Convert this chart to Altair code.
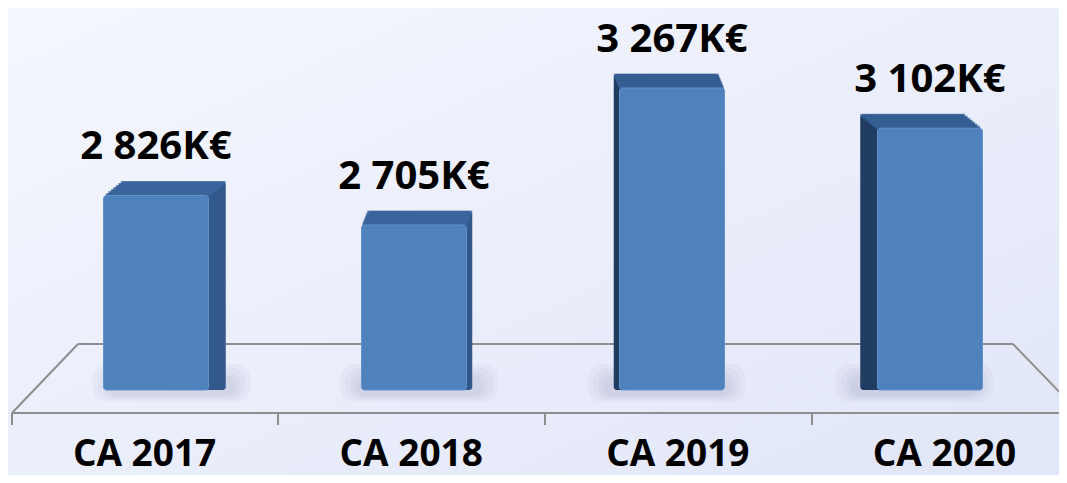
import altair as alt
import pandas as pd

# ---- data ----
categories = ["CA 2017", "CA 2018", "CA 2019", "CA 2020"]
values = [2826, 2705, 3267, 3102]
value_labels = ["2 826K€", "2 705K€", "3 267K€", "3 102K€"]

# scale limits (floor of the 3D chart and top of plot area)
Y_MIN = 2028
Y_MAX = 3595

df = pd.DataFrame({"cat": categories, "value": values, "label": value_labels})
one = pd.DataFrame({"k": [0]})

FONT = "Open Sans"
DEPTH = 14      # vertical depth of the 3D extrusion (px)
STEPS = 7

base = (
    alt.Chart(df)
    .transform_window(idx="row_number()")
    .transform_calculate(dx="(2.5 - datum.idx) * 11.5")
)

x_enc = alt.X(
    "cat:N",
    sort=categories,
    axis=None,
    scale=alt.Scale(paddingInner=0.593, paddingOuter=0.2965),
)
y_enc = alt.Y(
    "value:Q", axis=None, scale=alt.Scale(domain=[Y_MIN, Y_MAX], zero=False)
)
y2_enc = alt.Y2(datum=Y_MIN)

# background gradient
bg = alt.Chart(one).mark_rect(
    color=alt.Gradient(
        gradient="linear",
        stops=[
            alt.GradientStop(color="#f5f7fe", offset=0),
            alt.GradientStop(color="#e1e6f8", offset=1),
        ],
        x1=0, y1=0, x2=1, y2=1,
    )
).encode(x=alt.value(-19), x2=alt.value(1032), y=alt.value(0), y2=alt.value(467))

# floor lines
LINE = "#8e8e8e"
floor_segments = [
    (-15, 405, 1032, 405),   # front edge
    (51, 336, 986, 336),     # back edge
    (-15, 405, 51, 336),     # left diagonal
    (986, 336, 1042, 394),   # right diagonal
    (-15, 405, -15, 417),    # ticks
    (251, 405, 251, 417),
    (518, 405, 518, 417),
    (785, 405, 785, 417),
]
floor_layers = [
    alt.Chart(one)
    .mark_rule(color=LINE, strokeWidth=2)
    .encode(x=alt.value(a), y=alt.value(b), x2=alt.value(c), y2=alt.value(d))
    for a, b, c, d in floor_segments
]

# soft shadows at bar bases (several faint layers to imitate a blur)
shadows = [
    base.mark_bar(
        color="#5d6480", opacity=0.045, cornerRadius=14, width=w,
        xOffset=alt.expr("datum.dx * 0.9"),
    ).encode(x=x_enc, y=alt.value(y0), y2=alt.value(y1))
    for w, y0, y1 in [
        (158, 356, 394), (148, 360, 392), (138, 364, 390), (128, 368, 388),
    ]
]

# extruded box: copies of the rectangle translated along the depth vector
box_layers = []
for i in range(STEPS, 0, -1):
    t = i / STEPS
    box_layers.append(
        base.mark_bar(
            cornerRadius=3,
            xOffset=alt.expr(f"datum.dx * {t:.4f}"),
            yOffset=-DEPTH * t,
        ).encode(
            x=x_enc, y=y_enc, y2=y2_enc,
            color=alt.condition(
                "datum.dx > 0", alt.value("#33598b"), alt.value("#213d62")
            ),
        )
    )
    box_layers.append(
        base.mark_tick(
            orient="horizontal", thickness=DEPTH / STEPS + 1, size=105,
            color="#3d69a3",
            xOffset=alt.expr(f"datum.dx * {t:.4f}"),
            yOffset=-DEPTH * t + DEPTH / STEPS / 2,
        ).encode(x=x_enc, y=y_enc)
    )

# front face
front = base.mark_bar(
    color="#4f81bd", cornerRadius=3, stroke="#6391cc", strokeWidth=1
).encode(x=x_enc, y=y_enc, y2=y2_enc)

# value labels
vlabels = base.mark_text(
    font=FONT, fontWeight="bold", fontSize=40, baseline="alphabetic",
    dy=-36, color="#000000",
).encode(x=x_enc, y=y_enc, text="label:N")

# category labels
clabels = base.mark_text(
    font=FONT, fontWeight="bold", fontSize=37, baseline="alphabetic",
    color="#000000", xOffset=alt.expr("1.5 - 0.75 * datum.dx"),
).encode(x=x_enc, y=alt.value(458), text="cat:N")

chart = alt.layer(
    bg, *floor_layers, *shadows, *box_layers, front, vlabels, clabels
).properties(
    width=1032,
    height=382,
    padding={"left": 19, "top": 0, "right": 0, "bottom": 85},
    autosize=alt.AutoSizeParams(type="none"),
    background="#eceffb",
).configure_view(strokeWidth=0)

chart.save("out.html", embed_options={"renderer": "svg", "actions": False})
